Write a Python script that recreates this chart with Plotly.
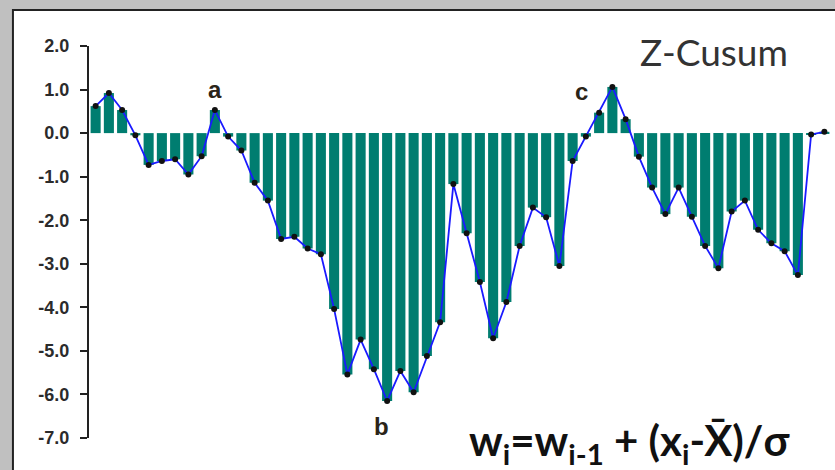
import plotly.graph_objects as go

# Standardised cumulative sum values, one per observation
obs = list(range(1, 57))
cusum = [
    0.62, 0.92, 0.53, -0.05, -0.73, -0.64, -0.60, -0.95, -0.53, 0.53,
    -0.08, -0.40, -1.14, -1.55, -2.43, -2.38, -2.65, -2.78, -4.04, -5.54,
    -4.74, -5.42, -6.15, -5.46, -5.95, -5.12, -4.34, -1.17, -2.30, -3.42,
    -4.71, -3.88, -2.59, -1.71, -1.93, -3.05, -0.64, -0.08, 0.47, 1.06,
    0.32, -0.54, -1.25, -1.86, -1.25, -1.92, -2.59, -3.10, -1.80, -1.55,
    -2.22, -2.53, -2.71, -3.26, -0.03, 0.03,
]
y_ticks = [2, 1, 0, -1, -2, -3, -4, -5, -6, -7]

# Point labels: (observation position, label height, text)
marks = [(10, 0.99, "a"), (22.6, -6.74, "b"), (37.7, 0.95, "c")]

fig = go.Figure()
fig.add_trace(go.Bar(
    x=obs, y=cusum, marker=dict(color="#007d70", line=dict(width=0)),
    width=0.76, showlegend=False,
))
fig.add_trace(go.Scatter(
    x=obs, y=cusum, mode="lines+markers",
    line=dict(color="#1a1aff", width=1.8),
    marker=dict(color="#111111", size=6),
    showlegend=False,
))

for xv, yv, t in marks:
    fig.add_annotation(x=xv, y=yv, xref="x", yref="y", text=f"<b>{t}</b>",
                       showarrow=False, xanchor="center", yanchor="middle",
                       font=dict(family="Liberation Sans", size=24, color="#2a2418"))

fig.add_annotation(x=0.842, y=0.986, xref="paper", yref="paper",
                   xanchor="center", yanchor="middle",
                   text="Z-Cusum", showarrow=False,
                   font=dict(family="Lato", size=37, color="#333333"))
fig.add_annotation(x=0.729, y=-0.014, xref="paper", yref="paper",
                   xanchor="center", yanchor="middle",
                   text="<b>w<sub>i</sub>=w<sub>i-1</sub> + (x<sub>i</sub>-X\u0304)/σ</b>",
                   showarrow=False,
                   font=dict(family="Lato", size=42, color="#111111"))

# White chart area with dark border on the grey surround
fig.add_shape(type="rect", xref="paper", yref="paper",
              x0=-0.1025, x1=1.03, y0=-0.12, y1=1.092,
              line=dict(color="#222222", width=2), fillcolor="white", layer="below")

fig.update_layout(
    width=835, height=470,
    margin=dict(l=89, r=4, t=46, b=32),
    paper_bgcolor="#c0c0c0", plot_bgcolor="white",
    bargap=0.24,
    xaxis=dict(range=[0.5, 56.5], showticklabels=False, showgrid=False,
               zeroline=False, showline=False, ticks=""),
    yaxis=dict(range=[-7, 2], tickvals=y_ticks,
               ticktext=[f"<b>{v:.1f}</b>" for v in y_ticks],
               showgrid=False, zeroline=False, showline=True,
               linecolor="#222222", linewidth=2, ticks="outside",
               ticklen=7, tickwidth=2, tickcolor="#222222",
               ticklabelstandoff=7,
               tickfont=dict(family="Liberation Sans", size=18, color="#2b2b2b")),
)

fig.write_html("out.html")
